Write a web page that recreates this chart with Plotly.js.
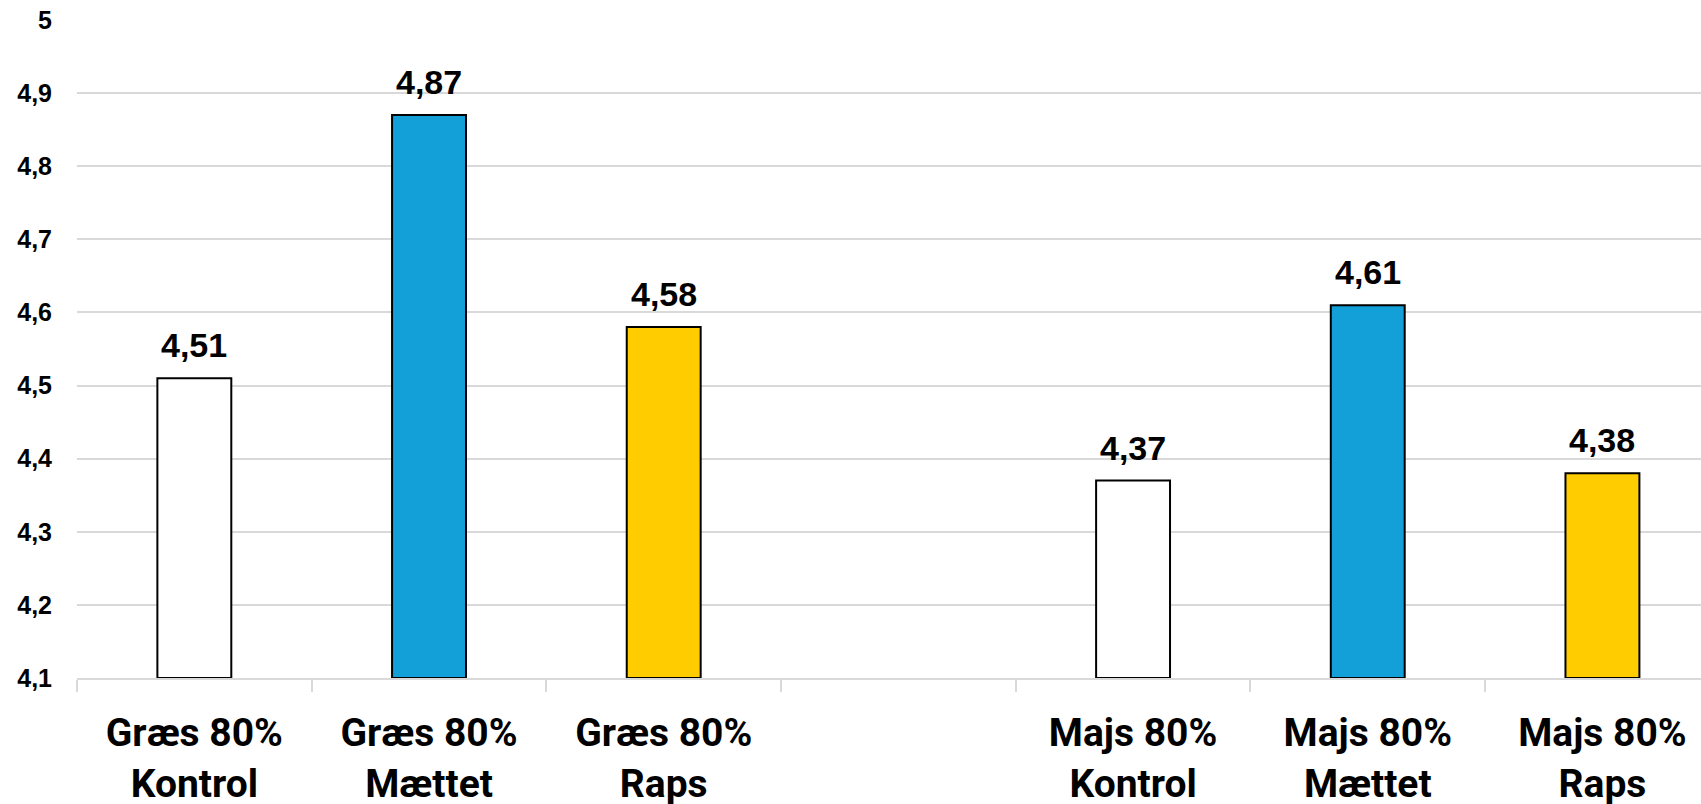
<!DOCTYPE html>
<html>
<head>
<meta charset="utf-8">
<script src="https://cdn.plot.ly/plotly-3.0.1.min.js"></script>
<style>html,body{margin:0;padding:0;background:#fff;}#chart{width:1701px;height:804px;}</style>
</head>
<body>
<div id="chart"></div>
<script>
// Data
const categories = ["Græs 80%<br>Kontrol", "Græs 80%<br>Mættet", "Græs 80%<br>Raps", " ", "Majs 80%<br>Kontrol", "Majs 80%<br>Mættet", "Majs 80%<br>Raps"];
const barCategories = ["Græs 80%<br>Kontrol", "Græs 80%<br>Mættet", "Græs 80%<br>Raps", "Majs 80%<br>Kontrol", "Majs 80%<br>Mættet", "Majs 80%<br>Raps"];
const values = [4.51, 4.87, 4.58, 4.37, 4.61, 4.38];
const barColors = ["#FFFFFF", "#139FD7", "#FFCC00", "#FFFFFF", "#139FD7", "#FFCC00"];
const yTicks = [4.1, 4.2, 4.3, 4.4, 4.5, 4.6, 4.7, 4.8, 4.9, 5];
const axisBase = 4.1;

const trace = {
  type: "bar",
  x: barCategories,
  y: values.map(v => v - axisBase),
  base: axisBase,
  marker: {color: barColors, line: {color: "#000000", width: 2}},
  hoverinfo: "skip"
};

const annotations = barCategories.map((c, i) => ({
  x: c, y: values[i], xref: "x", yref: "y",
  text: String(values[i]).replace(".", ","),
  showarrow: false, yanchor: "bottom", yshift: 12,
  font: {family: "Liberation Sans, Arial, sans-serif", size: 34, color: "#000", weight: "bold"}
}));

const layout = {
  width: 1701, height: 804,
  margin: {l: 77, r: 0, t: 20, b: 126},
  paper_bgcolor: "#fff", plot_bgcolor: "#fff",
  separators: ", ",
  showlegend: false,
  bargap: 0.685,
  xaxis: {
    type: "category",
    categoryorder: "array",
    categoryarray: categories,
    range: [-0.5, 6.42],
    tickson: "boundaries",
    ticks: "outside", ticklen: 12, tickwidth: 2, tickcolor: "#d9d9d9",
    showline: true, linecolor: "#d9d9d9", linewidth: 2,
    showgrid: false,
    ticklabelstandoff: 19,
    tickfont: {family: "Roboto, sans-serif", size: 39, color: "#000", weight: "bold"},
    fixedrange: true
  },
  yaxis: {
    range: [4.1, 5],
    tickvals: yTicks,
    ticktext: yTicks.map(v => String(v).replace(".", ",")),
    showgrid: true, gridcolor: "#d9d9d9", gridwidth: 2,
    showline: false, zeroline: false,
    ticks: "",
    ticklabelstandoff: 24,
    tickfont: {family: "Liberation Sans, Arial, sans-serif", size: 25, color: "#000", weight: "bold"},
    fixedrange: true
  },
  annotations: annotations,
  font: {family: "Liberation Sans, Arial, sans-serif", color: "#000"}
};

Plotly.newPlot("chart", [trace], layout, {displayModeBar: false, staticPlot: true});
</script>
</body>
</html>
